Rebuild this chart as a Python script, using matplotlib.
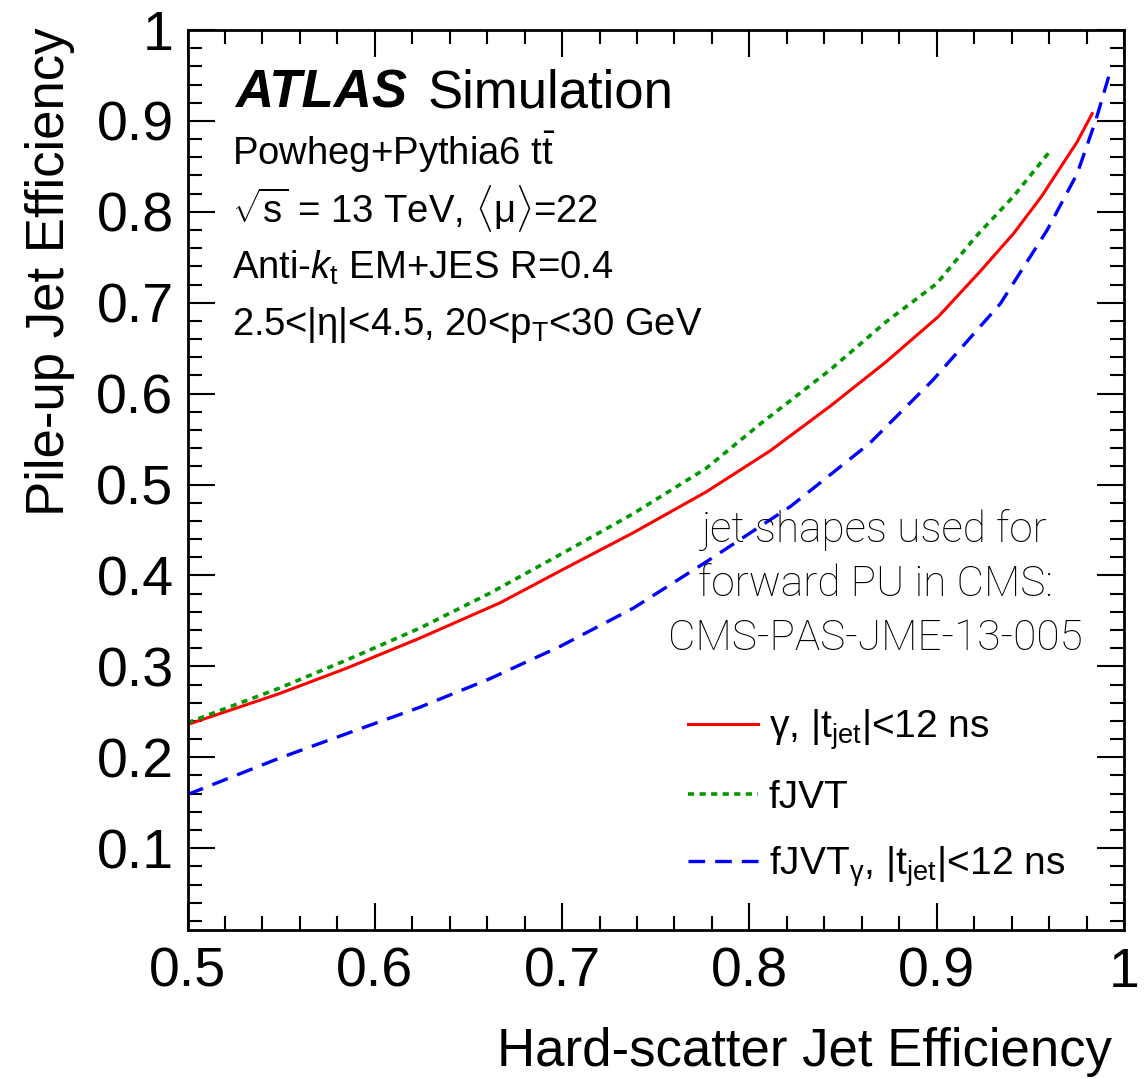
import numpy as np
import matplotlib
matplotlib.use("Agg")
import matplotlib.pyplot as plt
from matplotlib.ticker import MultipleLocator, AutoMinorLocator, FuncFormatter

plt.rcParams['font.family'] = ['Liberation Sans', 'DejaVu Sans']
plt.rcParams['mathtext.fontset'] = 'custom'
plt.rcParams['mathtext.rm'] = 'Liberation Sans'
plt.rcParams['mathtext.it'] = 'Liberation Sans:italic'
plt.rcParams['mathtext.bf'] = 'Liberation Sans:bold'

# gamma, |t_jet|<12 ns
hs_gamma = [0.50, 0.549, 0.585, 0.624, 0.667, 0.699, 0.738, 0.777, 0.811, 0.843,
            0.873, 0.901, 0.923, 0.941, 0.956, 0.975, 0.983]
pu_gamma = [0.236, 0.270, 0.298, 0.331, 0.370, 0.405, 0.447, 0.492, 0.537, 0.586,
            0.635, 0.685, 0.734, 0.776, 0.817, 0.877, 0.908]

# fJVT
hs_fjvt = [0.50, 0.549, 0.585, 0.624, 0.661, 0.699, 0.738, 0.777, 0.806, 0.843,
           0.873, 0.900, 0.921, 0.941, 0.961]
pu_fjvt = [0.238, 0.276, 0.307, 0.342, 0.380, 0.423, 0.468, 0.518, 0.567, 0.626,
           0.679, 0.721, 0.773, 0.817, 0.868]

# fJVT_gamma, |t_jet|<12 ns
hs_fjvtg = [0.50, 0.549, 0.585, 0.624, 0.661, 0.699, 0.738, 0.777, 0.822, 0.864,
            0.898, 0.934, 0.959, 0.975, 0.985, 0.993]
pu_fjvtg = [0.159, 0.199, 0.226, 0.255, 0.286, 0.322, 0.364, 0.415, 0.476, 0.545,
            0.615, 0.699, 0.780, 0.842, 0.901, 0.957]

labels = [r'γ, $|\mathrm{t}_{\mathrm{jet}}|$<12 ns', 'fJVT',
          r'fJVT$_{\mathrm{γ}}$, $|\mathrm{t}_{\mathrm{jet}}|$<12 ns']

W, H = 1148, 1079
fig = plt.figure(figsize=(W/100, H/100), dpi=100)
ax = fig.add_axes([187.5/W, 1-930/H, (1124-187.5)/W, 900/H])

lw = 2.2
ax.plot(hs_gamma, pu_gamma, color='#ff0000', lw=lw, label=labels[0])
ax.plot(hs_fjvt, pu_fjvt, color='#009900', lw=lw+0.4, dashes=(1.7, 1.5), label=labels[1])
ax.plot(hs_fjvtg, pu_fjvtg, color='#0000ff', lw=lw+0.2, dashes=(5, 3), label=labels[2])

ax.set_xlim(0.5, 1.0)
ax.set_ylim(0.01, 1.0)
ax.xaxis.set_major_locator(MultipleLocator(0.1))
ax.yaxis.set_major_locator(MultipleLocator(0.1))
ax.xaxis.set_minor_locator(AutoMinorLocator(5))
ax.yaxis.set_minor_locator(AutoMinorLocator(5))
fmt = FuncFormatter(lambda v, p: '%g' % round(v, 2))
ax.xaxis.set_major_formatter(fmt)
ax.yaxis.set_major_formatter(fmt)
ax.tick_params(which='both', direction='in', top=True, right=True, width=1.5, labelsize=40)
ax.tick_params(which='major', length=19.5)
ax.tick_params(which='minor', length=10)
ax.tick_params(axis='x', pad=12)
ax.tick_params(axis='y', pad=10)
for s in ax.spines.values():
    s.set_linewidth(2)

fig.text(1112/W, 1-1066/H, 'Hard-scatter Jet Efficiency', ha='right', va='baseline', fontsize=38)
fig.text(50/W, 1-28/H, 'Pile-up Jet Efficiency', rotation=90, ha='center', va='top', fontsize=38)

fig.text(235/W, 1-108/H, 'ATLAS', fontsize=38, fontweight='bold', fontstyle='italic', va='baseline')
fig.text(428/W, 1-108/H, 'Simulation', fontsize=38, va='baseline')
info = [r'Powheg+Pythia6 $\mathrm{t}\bar{\mathrm{t}}$',
        r'$\sqrt{\mathrm{s}}$ = 13 TeV, $\langle\mathrm{μ}\rangle$=22',
        r'Anti-$k_{\mathrm{t}}$ EM+JES R=0.4',
        r'2.5<|$\mathrm{η}$|<4.5, 20<$\mathrm{p}_{\mathrm{T}}$<30 GeV']
for txt, yb in zip(info, [165, 222, 279, 335]):
    fig.text(232/W, 1-yb/H, txt, fontsize=27.5, va='baseline')

fig.text(875/W, 1-584/H, 'jet shapes used for\nforward PU in CMS:\nCMS-PAS-JME-13-005',
         ha='center', va='center', multialignment='center', fontsize=30.5,
         family=['Roboto', 'Liberation Sans'], fontweight='light', linespacing=1.4)

ax.legend(loc='upper left', bbox_to_anchor=(688/W, 1-707/H), bbox_transform=fig.transFigure,
          frameon=False, fontsize=28, handlelength=1.8, handletextpad=0.28,
          labelspacing=0.73, borderpad=0, borderaxespad=0)

fig.savefig('out.png', dpi=100)
